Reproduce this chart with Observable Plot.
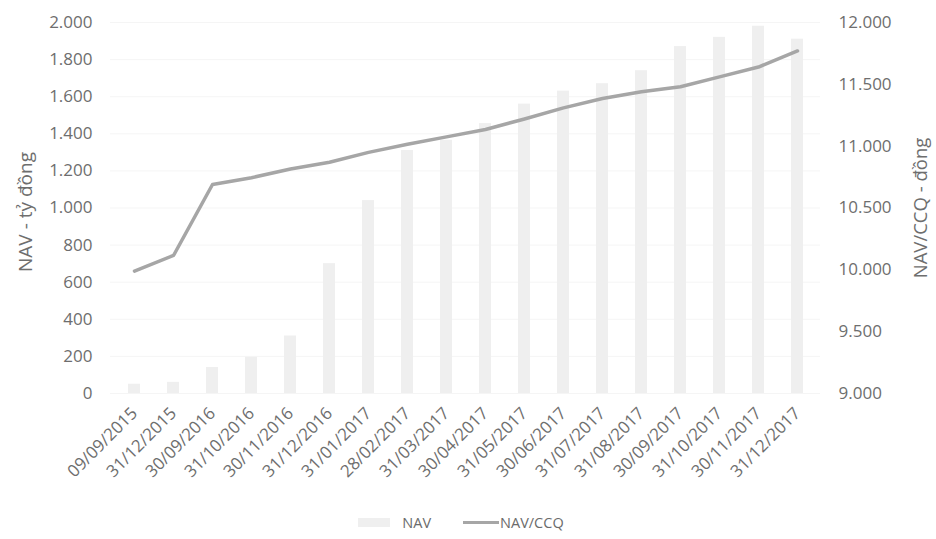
<!DOCTYPE html>
<html>
<head>
<meta charset="utf-8">
<script src="https://cdn.jsdelivr.net/npm/d3@7"></script>
<script src="https://cdn.jsdelivr.net/npm/@observablehq/plot@0.6"></script>
<style>
  body { margin: 0; background: #fff; }
  #chart { width: 936px; }
  .legend { display: flex; justify-content: center; align-items: center; font-family: "Open Sans", sans-serif; font-size: 14.5px; color: #6b6b6b; height: 39px; margin-left: -14px; padding-top: 3px; }
  .legend .item { display: flex; align-items: center; }
  .sw-bar { width: 32px; height: 9px; background: #efefef; margin-right: 12px; }
  .sw-line { width: 36px; height: 3px; background: #a6a6a6; margin-left: 32px; margin-right: 1px; }
</style>
</head>
<body>
<div id="chart"></div>
<script>
const categories = ["09/09/2015","31/12/2015","30/09/2016","31/10/2016","30/11/2016","31/12/2016","31/01/2017","28/02/2017","31/03/2017","30/04/2017","31/05/2017","30/06/2017","31/07/2017","31/08/2017","30/09/2017","31/10/2017","30/11/2017","31/12/2017"];
const navValues = [50, 60, 140, 195, 310, 700, 1040, 1310, 1365, 1455, 1560, 1630, 1670, 1740, 1870, 1920, 1980, 1910];
const navPerUnit = [9990, 10116, 10690, 10745, 10815, 10870, 10950, 11015, 11075, 11135, 11220, 11310, 11385, 11440, 11480, 11560, 11640, 11770];
const leftTicks = [0, 200, 400, 600, 800, 1000, 1200, 1400, 1600, 1800, 2000];
const rightTicks = [9000, 9500, 10000, 10500, 11000, 11500, 12000];
const leftTitle = "NAV - tỷ đồng";
const rightTitle = "NAV/CCQ - đồng";

const data = categories.map((c, i) => ({date: c, nav: navValues[i], ccq: navPerUnit[i]}));
const toLeft = v => (v - 9000) / 3000 * 2000;
const fromLeft = v => v / 2000 * 3000 + 9000;
const fmt = v => d3.format(",")(v).replace(/,/g, ".");
const textColor = "#6e6e6e";

const chart = Plot.plot({
  width: 936,
  height: 500,
  marginTop: 22,
  marginBottom: 107,
  marginLeft: 110,
  marginRight: 116,
  style: {fontFamily: "Open Sans", fontSize: "17px", color: textColor, background: "#fff"},
  x: {type: "band", domain: categories, paddingInner: 0.7, paddingOuter: 0.36, label: null},
  y: {domain: [0, 2000], label: null},
  marks: [
    Plot.ruleY(leftTicks, {stroke: "#f5f5f5"}),
    Plot.barY(data, {x: "date", y: "nav", fill: "#efefef"}),
    Plot.line(data, {x: "date", y: d => toLeft(d.ccq), stroke: "#a6a6a6", strokeWidth: 3.5}),
    Plot.axisY(leftTicks, {anchor: "left", tickSize: 0, tickPadding: 18, tickFormat: fmt, label: null, fill: textColor}),
    Plot.axisY(rightTicks.map(toLeft), {anchor: "right", tickSize: 0, tickPadding: 18, tickFormat: d => fmt(Math.round(fromLeft(d))), label: null, fill: textColor}),
    Plot.axisX({tickSize: 0, tickRotate: -45, tickPadding: 17, label: null, fill: textColor}),
    Plot.text([leftTitle], {text: d => d, frameAnchor: "left", textAnchor: "middle", rotate: -90, dx: -85, dy: 4, fontSize: 19, fill: textColor}),
    Plot.text([rightTitle], {text: d => d, frameAnchor: "right", textAnchor: "middle", rotate: -90, dx: 101, fontSize: 18.5, fill: textColor})
  ]
});
document.getElementById("chart").appendChild(chart);

const legend = document.createElement("div");
legend.className = "legend";
legend.innerHTML = `<div class="item"><span class="sw-bar"></span><span>NAV</span></div><div class="item"><span class="sw-line"></span><span>NAV/CCQ</span></div>`;
document.getElementById("chart").appendChild(legend);
</script>
</body>
</html>
